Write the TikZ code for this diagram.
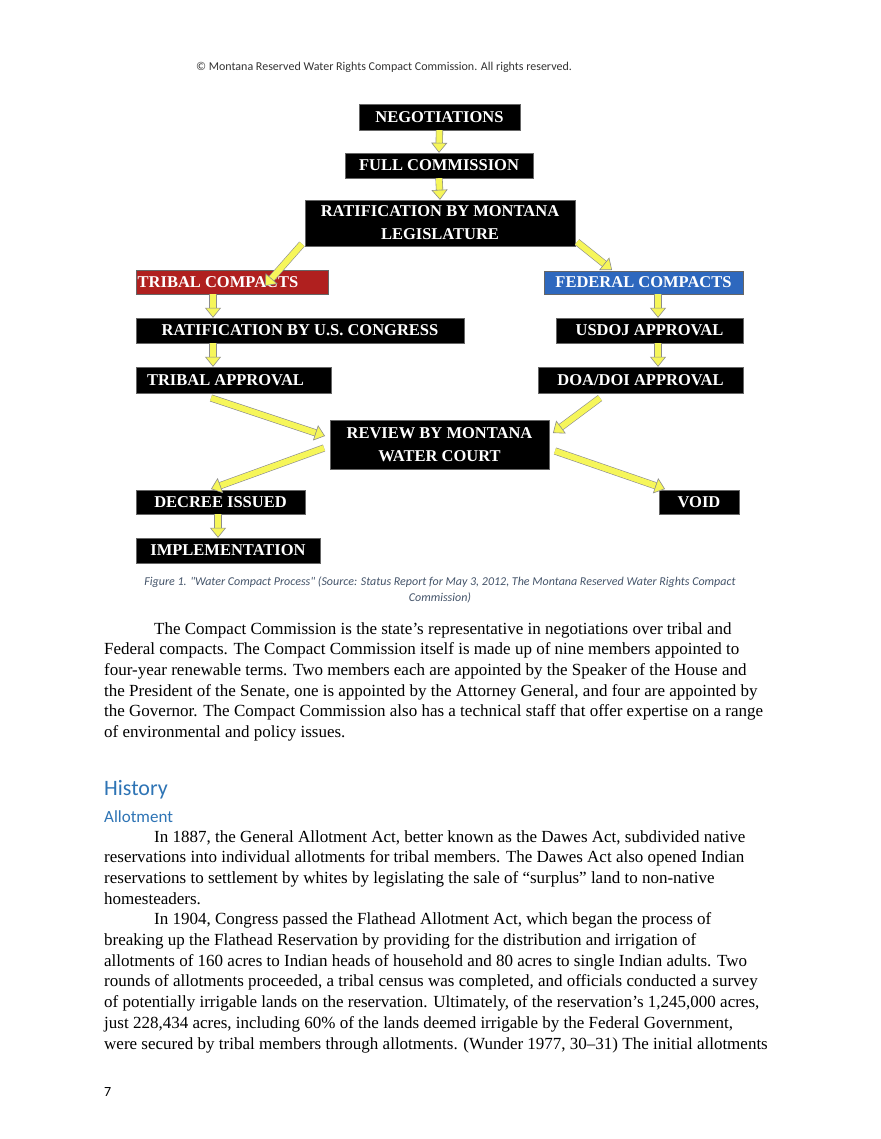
\documentclass[tikz,border=0pt]{standalone}
\usepackage{fontspec}
\setmainfont{Liberation Serif}
\newfontfamily\carl{Carlito}
\usetikzlibrary{arrows.meta,calc}
\definecolor{tred}{HTML}{B0201F}
\definecolor{fblue}{HTML}{2E68BE}
\definecolor{capc}{HTML}{44546A}
\definecolor{headc}{HTML}{2E74B5}
\definecolor{ayel}{HTML}{F6F65A}
\newcommand\fa[2]{%
 \draw[draw=black!45,double=ayel,double distance=6pt,line width=0.6pt] (#1) -- ($(#2)!9pt!(#1)$);
 \draw[draw=black!45,line width=0.6pt,-{Triangle[length=10pt,width=16pt,fill=ayel]}] ($(#2)!10pt!(#1)$) -- (#2);}
\begin{document}
\begin{tikzpicture}[x=1pt,y=-1pt,
 box/.style={fill=black,draw=black!60,line width=0.4pt,text=white,inner sep=0pt,align=center,
   font=\fontsize{16.5}{23}\selectfont\bfseries},
 body/.style={anchor=north west,align=left,inner sep=0pt,font=\fontsize{17}{20.7}\selectfont}]
\useasboundingbox (0,0) rectangle (880,1139);
\fill[white] (0,0) rectangle (880,1139);
\node[font=\carl\fontsize{12}{14}\selectfont,text=black!80] (hdr) at (384,67) {© Montana Reserved Water Rights Compact Commission. All rights reserved.};
% boxes
\newcommand\bx[6]{\node[box,#6,minimum width=#3-#2,minimum height=#5-#4] (#1) at ({(#2+#3)/2},{(#4+#5)/2})}
\bx{neg}{359}{520}{104}{130}{}{NEGOTIATIONS};
\bx{full}{345}{533}{153}{178}{}{FULL COMMISSION};
\bx{mt}{305}{575}{200}{246}{}{RATIFICATION BY MONTANA\\LEGISLATURE};
\bx{tc}{136}{328}{270}{294}{fill=tred}{\hspace*{-28pt}TRIBAL COMPACTS};
\bx{fc}{544}{743}{271}{294}{fill=fblue}{FEDERAL COMPACTS};
\bx{rus}{136}{464}{318}{343}{}{RATIFICATION BY U.S. CONGRESS};
\bx{doj}{556}{743}{318}{343}{}{USDOJ APPROVAL};
\bx{ta}{136}{331}{367}{393}{}{\hspace*{-16pt}TRIBAL APPROVAL};
\bx{doa}{538}{743}{367}{393}{}{DOA/DOI APPROVAL};
\bx{rev}{330}{549}{420}{469}{}{REVIEW BY MONTANA\\WATER COURT};
\bx{dec}{136}{305}{490}{514}{}{DECREE ISSUED};
\bx{void}{659}{739}{490}{514}{}{VOID};
\bx{imp}{136}{320}{538}{563}{}{IMPLEMENTATION};
% arrows
\fa{neg.south}{full.north}
\fa{full.south}{mt.north}
\coordinate (tcin) at (265,286); \coordinate (mtl) at (302,244);
\coordinate (fcin) at (612,270); \coordinate (mtr) at (577,242);
\fa{mtl}{tcin}
\fa{mtr}{fcin}
\fa{tc.south -| 213,0}{rus.north -| 213,0}
\fa{rus.south -| 213,0}{ta.north -| 213,0}
\fa{fc.south -| 658,0}{doj.north -| 658,0}
\fa{doj.south -| 658,0}{doa.north -| 658,0}
\coordinate (tao) at (211,398); \coordinate (revl) at (325,436);
\coordinate (doao) at (600,398); \coordinate (revr) at (553,433);
\coordinate (revl2) at (324,448); \coordinate (decin) at (211,489);
\coordinate (revr2) at (555,451); \coordinate (voidin) at (665,489);
\fa{tao}{revl}
\fa{doao}{revr}
\fa{revl2}{decin}
\fa{revr2}{voidin}
\fa{dec.south -| 218,0}{imp.north -| 218,0}
% caption
\node[font=\carl\itshape\fontsize{12}{16}\selectfont,text=capc,align=center] (cap) at (440,590)
 {Figure 1. "Water Compact Process" (Source: Status Report for May 3, 2012, The Montana Reserved Water Rights Compact\\Commission)};
\node[body] (p1) at (104,622) {\hspace*{50pt}The Compact Commission is the state’s representative in negotiations over tribal and\\
Federal compacts. The Compact Commission itself is made up of nine members appointed to\\
four-year renewable terms. Two members each are appointed by the Speaker of the House and\\
the President of the Senate, one is appointed by the Attorney General, and four are appointed by\\
the Governor. The Compact Commission also has a technical staff that offer expertise on a range\\
of environmental and policy issues.};
\node[anchor=west,inner sep=0pt,font=\carl\fontsize{22}{24}\selectfont,text=headc] (h1) at (104,790) {History};
\node[anchor=west,inner sep=0pt,font=\carl\fontsize{17}{20}\selectfont,text=headc] (h2) at (104,817) {Allotment};
\node[body] (p2) at (104,830) {\hspace*{50pt}In 1887, the General Allotment Act, better known as the Dawes Act, subdivided native\\
reservations into individual allotments for tribal members. The Dawes Act also opened Indian\\
reservations to settlement by whites by legislating the sale of “surplus” land to non-native\\
homesteaders.\\
\hspace*{50pt}In 1904, Congress passed the Flathead Allotment Act, which began the process of\\
breaking up the Flathead Reservation by providing for the distribution and irrigation of\\
allotments of 160 acres to Indian heads of household and 80 acres to single Indian adults. Two\\
rounds of allotments proceeded, a tribal census was completed, and officials conducted a survey\\
of potentially irrigable lands on the reservation. Ultimately, of the reservation’s 1,245,000 acres,\\
just 228,434 acres, including 60\% of the lands deemed irrigable by the Federal Government,\\
were secured by tribal members through allotments. (Wunder 1977, 30–31) The initial allotments};
\node[anchor=west,inner sep=0pt,font=\carl\fontsize{14}{16}\selectfont] (pg) at (104,1092) {7};
\end{tikzpicture}
\end{document}
